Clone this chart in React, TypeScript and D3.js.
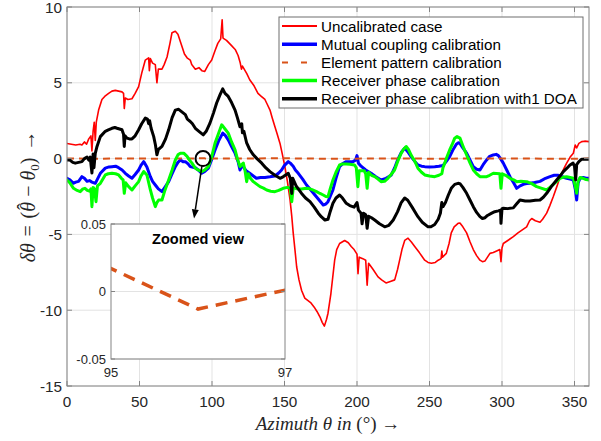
import React from "react";
import * as d3 from "d3";

type P = [number, number];

const xTicks = [0, 50, 100, 150, 200, 250, 300, 350];
const yTicks = [-15, -10, -5, 0, 5, 10];
const insetXTicks = [95, 97];
const insetYTicks = [-0.05, 0, 0.05];

const seriesNames = [
  "Uncalibrated case",
  "Mutual coupling calibration",
  "Element pattern calibration",
  "Receiver phase calibration",
  "Receiver phase calibration with1 DOA",
];

const uncalibrated: P[] = [[0,1.0],[3,0.95],[6,0.9],[9,0.95],[10.3,0.9],[12,1.1],[13.5,0.95],[15,1.3],[16.5,1.5],[17.2,0.5],[18,1.8],[18.8,2.4],[19.5,1.2],[20.2,2.4],[21.8,3.2],[24.1,3.9],[26,4.1],[28.7,4.3],[31,4.45],[33.3,4.5],[35.6,4.45],[37.9,4.4],[39,4.3],[39.5,3.3],[40.2,4.0],[42,3.9],[44.8,3.95],[47,4.3],[49.4,4.75],[51.7,5.7],[54,6.5],[56.3,6.65],[56.8,5.8],[57.5,6.6],[59,6.3],[60.9,6.2],[62,5.0],[63,5.9],[65.5,5.9],[67,6.2],[69,6.7],[71,7.6],[72.4,8.3],[74.7,8.4],[76.5,8.2],[79.3,7.4],[81,6.9],[82.8,6.65],[85,6.5],[86,6.2],[88.5,5.9],[91,6.0],[93,5.8],[95,5.75],[97.5,6.2],[99.8,6.5],[102,7.1],[104,7.6],[106,7.9],[107,9.15],[107.6,7.95],[110,7.8],[113,7.5],[116,7.2],[118,6.8],[119.5,6.3],[120.3,5.9],[121,6.1],[122.8,5.8],[124,5.6],[126,5.2],[129,4.8],[131.7,4.3],[134,4.1],[136.5,3.9],[138,3.6],[140,3.2],[141.5,2.7],[143.4,2.1],[145,1.6],[146.9,1.0],[148.5,0.3],[150.3,-0.55],[152,-1.5],[153.8,-2.7],[155,-3.8],[156,-4.9],[157.2,-6.0],[158.4,-7.15],[160,-8.0],[161.8,-8.7],[164,-9.2],[166,-9.35],[168,-9.5],[170.5,-9.8],[172.5,-10.1],[174.5,-10.45],[176,-10.8],[177.5,-11.05],[179,-10.6],[180,-10.2],[182,-8.9],[184.6,-6.7],[186,-6.0],[188,-5.6],[191.5,-5.4],[194,-5.55],[196,-5.8],[198,-6.0],[200,-6.3],[200.7,-7.6],[201.5,-6.5],[204,-6.6],[206,-6.7],[207,-8.35],[208,-6.9],[211,-7.3],[214.5,-7.8],[217,-8.0],[220,-8.2],[223,-8.1],[226,-8.0],[228,-7.3],[229.4,-6.7],[231,-6.0],[232.9,-5.4],[235.2,-5.25],[237.5,-5.5],[239.8,-5.8],[243,-6.2],[246.7,-6.7],[249,-6.85],[251.3,-6.9],[254,-6.85],[256,-6.7],[258,-6.6],[258.5,-6.1],[259,-6.5],[261.6,-6.25],[263.5,-5.6],[265,-4.9],[267,-4.5],[269.7,-4.27],[271,-4.25],[273,-4.5],[275.6,-4.9],[278,-5.5],[280.2,-6.0],[282.5,-6.4],[284.8,-6.7],[286.5,-6.8],[288.3,-6.75],[290,-6.5],[291.7,-6.25],[294,-6.2],[296.3,-6.1],[298.5,-6.0],[299.3,-6.8],[300,-5.9],[300.9,-5.6],[304,-5.4],[307.8,-5.15],[311,-4.9],[314,-4.7],[317,-4.5],[319,-4.1],[320.5,-3.95],[323,-4.1],[326.2,-4.2],[328,-4.0],[330.8,-3.6],[333,-3.1],[335.4,-2.5],[338,-1.8],[340,-1.2],[342.5,-0.7],[344.6,-0.3],[347,0.1],[349.2,0.35],[350.5,0.9],[351.5,0.7],[353,1.0],[355,1.12],[357,1.15],[360,1.12]];

const mutualCoupling: P[] = [[0,-1.3],[2,-1.4],[4.5,-1.63],[6,-1.55],[8,-1.5],[10.3,-1.19],[12,-1.3],[13.8,-1.5],[15.5,-1.45],[17.2,-1.55],[19.5,-1.63],[21,-1.35],[23,-0.97],[26.4,-0.63],[29,-0.55],[31,-0.53],[33.5,-0.5],[35.6,-0.6],[38,-0.75],[40.2,-0.97],[42.5,-1.15],[44.8,-1.3],[47,-1.05],[49.4,-0.75],[51,-0.45],[52.9,-0.2],[55.1,-0.55],[57.5,-1.19],[59,-1.5],[60.9,-1.74],[63,-2.0],[65.5,-2.18],[67.5,-1.9],[70.1,-1.52],[72.5,-1.0],[74.7,-0.53],[76.5,-0.25],[78.2,-0.09],[80,-0.2],[81.6,-0.2],[83.5,-0.35],[85,-0.53],[88.5,-0.6],[90.5,-0.75],[92.9,-0.97],[95,-0.85],[97.5,-0.63],[100,0.0],[102.1,0.57],[104.5,1.15],[107.4,1.68],[109,1.55],[111.2,1.24],[113.5,0.8],[115.9,0.36],[118,-0.2],[119.3,-0.75],[120.5,-0.5],[121.6,-0.55],[123.5,-0.8],[126,-0.97],[128.5,-1.15],[130.6,-1.3],[133.5,-1.25],[136.5,-1.24],[140,-1.2],[143.4,-1.15],[146,-0.95],[148,-0.75],[150,-0.45],[152.6,-0.2],[154,-0.3],[156,-0.5],[157.5,-0.75],[159.5,-0.97],[162.5,-1.35],[165.2,-1.74],[168,-2.05],[171,-2.4],[174,-2.75],[176.7,-3.06],[178.5,-3.0],[180,-2.84],[181.5,-2.5],[183.4,-2.07],[185.5,-1.3],[188,-0.53],[190,-0.35],[192.6,-0.2],[195,-0.2],[197.2,-0.2],[199,-0.1],[200,0.2],[201,-0.3],[202.8,-0.5],[206,-0.75],[209.7,-0.97],[213,-1.2],[216.6,-1.41],[220,-1.3],[223.5,-1.1],[226,-0.6],[228,-0.09],[230.5,0.4],[232.9,0.69],[235,0.45],[237.5,0.1],[240,-0.2],[242,-0.42],[244.5,-0.5],[246.7,-0.53],[250,-0.55],[253.6,-0.53],[256.5,-0.5],[259.3,-0.45],[261.5,-0.2],[263.9,0.13],[266,0.55],[268.5,0.95],[270,1.05],[271,1.0],[273,0.7],[275.6,0.36],[278,-0.1],[280.2,-0.53],[282.5,-0.7],[284.8,-0.75],[287,-0.4],[289.4,-0.09],[291.5,0.15],[294,0.24],[296,0.28],[297.5,0.2],[299,0.0],[300.9,-0.3],[303,-0.7],[305.5,-1.19],[308,-1.6],[310.1,-1.96],[312.5,-1.8],[314.7,-1.7],[317,-1.65],[319.3,-1.63],[322.5,-1.58],[326.2,-1.5],[330,-1.3],[333.1,-1.19],[336,-1.1],[338.9,-1.1],[341.5,-1.2],[344.6,-1.3],[347,-1.35],[349.2,-1.41],[350.5,-2.0],[351.5,-2.73],[352.5,-1.6],[353.8,-1.3],[356,-1.25],[358,-1.3],[360,-1.3]];

const elementPattern: P[] = [[0,0.01],[20,-0.01],[40,0.015],[60,-0.005],[80,0.01],[95,0.017],[96,-0.013],[97,0.001],[120,0.01],[150,0.02],[180,-0.01],[220,0.005],[260,-0.005],[300,0.01],[340,-0.01],[360,0]];

const receiverPhase: P[] = [[0,-1.41],[2,-1.6],[4.5,-1.96],[7,-2.1],[9.1,-2.18],[11,-2.0],[12.4,-1.96],[14,-2.1],[15.5,-2.15],[16.5,-2.0],[17.2,-3.17],[18,-1.9],[19,-2.0],[20,-2.84],[21,-1.8],[23,-1.63],[26.4,-1.08],[28.5,-1.0],[31,-0.97],[33.5,-1.0],[35.6,-1.08],[37.5,-1.3],[38.7,-1.4],[39.5,-2.29],[40.5,-1.6],[42.5,-1.85],[44.8,-2.07],[47,-1.8],[49.4,-1.52],[51,-1.15],[52.9,-0.86],[55.1,-1.08],[57.5,-2.07],[59,-2.6],[60.9,-3.17],[62,-2.9],[63.2,-2.73],[65.5,-2.73],[67.5,-2.1],[70.1,-1.41],[72.5,-0.75],[74.7,-0.09],[76.5,0.25],[78.2,0.36],[80.5,0.36],[82.8,0.15],[84.5,-0.1],[86.2,-0.3],[88.5,-0.63],[90.5,-0.75],[92.9,-0.86],[95,-0.75],[97.5,-0.53],[100,0.2],[102.1,1.02],[104.5,1.65],[106.7,2.23],[109,1.95],[111.2,1.68],[113.5,1.1],[115.9,0.57],[117.5,0.0],[119.3,-0.53],[120.5,-0.4],[121.6,-0.3],[122.8,-0.8],[123.9,-1.52],[125,-1.0],[126.5,-1.3],[128.5,-1.52],[131,-1.7],[133.1,-1.85],[135.5,-1.95],[137.7,-2.07],[140.5,-2.15],[143.4,-2.18],[146,-2.1],[149.1,-1.96],[152,-1.9],[154,-1.95],[155,-2.84],[156,-1.95],[157.2,-1.96],[159.5,-2.0],[161.8,-2.0],[164,-1.97],[166.4,-1.96],[169,-2.05],[172.1,-2.18],[174.5,-2.3],[176.7,-2.4],[178.5,-2.5],[180,-2.51],[181.5,-2.0],[183.4,-1.41],[185.5,-0.9],[188,-0.42],[190,-0.35],[192.6,-0.35],[195,-0.38],[198.3,-0.42],[199.5,-0.6],[200.6,-1.85],[201.5,-0.8],[203,-0.8],[205,-0.8],[206,-1.0],[207,-1.96],[208,-0.9],[210,-1.1],[212.2,-1.19],[214.5,-1.35],[216.6,-1.52],[219,-1.5],[221.3,-1.3],[223.5,-1.05],[225.9,-0.75],[228,-0.2],[230.5,0.36],[232,0.6],[233.9,0.8],[235.5,0.6],[237.5,0.2],[240,-0.2],[242,-0.63],[244.5,-0.9],[246.7,-1.08],[250,-1.15],[253.6,-1.19],[256.5,-1.1],[258.5,-1.0],[259.3,-0.6],[260.5,-0.3],[262,0.1],[263.9,0.57],[265.5,0.9],[267.4,1.35],[269,1.45],[271,1.35],[273,0.85],[275.6,0.24],[278,-0.3],[280.2,-0.75],[282.5,-1.0],[284.8,-1.19],[287,-1.2],[289.4,-1.19],[291.5,-1.1],[294,-0.97],[296,-0.98],[298.5,-1.0],[299.3,-1.96],[300.2,-1.0],[302.5,-1.1],[305.5,-1.3],[308,-1.4],[310.1,-1.52],[313,-1.5],[317,-1.52],[320.5,-1.65],[323.9,-1.85],[327,-1.95],[330.8,-2.07],[333,-1.9],[335.4,-1.7],[337.7,-1.5],[340,-1.3],[342.5,-1.22],[344.6,-1.2],[347,-1.25],[349.2,-1.3],[350.5,-1.8],[351.5,-2.29],[352.5,-1.5],[353.8,-1.25],[356,-1.3],[358,-1.38],[360,-1.41]];

const receiverPhase1DOA: P[] = [[0,-0.09],[2,-0.1],[4,-0.25],[5.7,-0.3],[8,-0.25],[10.3,-0.2],[12,0.0],[13.8,0.1],[15,-0.1],[16,0.1],[17.2,-0.95],[18,0.3],[18.6,-0.6],[19.5,0.35],[20.7,0.8],[23,1.45],[26.4,1.8],[28.5,1.9],[31,2.0],[33,2.05],[34.5,2.0],[37.9,1.9],[39,1.6],[39.5,0.8],[40,1.5],[41.4,1.35],[43,1.3],[44.8,1.3],[47,1.5],[49.4,1.9],[51.5,2.3],[54,2.67],[55.5,2.6],[56.3,2.3],[57,2.5],[58,2.0],[59.8,1.45],[61,0.9],[62,0.25],[63,0.6],[65.5,0.8],[68,1.3],[70.1,1.9],[72.5,2.7],[74.7,3.2],[77,3.25],[79,3.1],[81.6,2.9],[83,2.6],[85,2.45],[86.5,2.3],[88.5,2.0],[91,1.8],[94,1.57],[96,1.8],[98.6,2.34],[101,3.0],[103.2,3.67],[105.5,4.2],[107.4,4.6],[109,4.3],[111.2,4.1],[113.5,3.7],[115.9,3.2],[117.5,2.7],[119.3,2.1],[120.5,2.3],[121,1.7],[122,1.8],[123.9,1.03],[126,0.6],[128.5,0.25],[131,0.0],[134.3,-0.3],[137,-0.6],[140,-0.86],[143.4,-1.1],[146.9,-1.3],[149,-1.2],[152.6,-0.97],[154,-1.3],[155,-2.3],[155.7,-1.3],[158,-1.8],[161.8,-2.3],[164.5,-2.6],[167.6,-2.84],[170.5,-3.2],[173.3,-3.6],[175.5,-3.85],[177.9,-4.05],[180,-4.0],[181.5,-3.5],[183.4,-2.95],[185.5,-2.6],[188,-2.4],[190,-2.6],[192.6,-2.95],[195,-3.1],[198,-3.2],[200,-2.9],[201,-3.4],[202.8,-3.6],[203.5,-4.3],[204.5,-3.6],[206,-3.7],[207,-4.6],[208,-3.8],[210,-3.9],[212.2,-4.05],[215.5,-4.3],[219.1,-4.5],[222,-4.4],[225,-4.05],[228,-3.5],[230.5,-2.9],[232.9,-2.6],[235,-2.75],[238,-3.2],[242,-3.83],[245,-4.2],[249,-4.5],[251,-4.5],[253.6,-4.35],[256,-4.0],[257.5,-3.6],[258.5,-2.9],[259.3,-3.17],[261,-2.9],[263,-2.4],[265,-1.96],[267.4,-1.7],[269.7,-1.63],[271,-1.65],[273,-1.9],[275.6,-2.29],[278,-2.75],[280.2,-3.17],[282.5,-3.55],[284.8,-3.83],[286.5,-3.95],[288.3,-3.9],[290,-3.75],[292.9,-3.6],[295,-3.5],[297.5,-3.45],[299,-3.4],[299.3,-4.27],[300,-3.3],[300.9,-3.28],[304,-3.3],[307.8,-3.25],[310,-3.0],[312.4,-2.73],[316,-2.8],[319.3,-2.8],[323,-2.75],[326.2,-2.73],[328.5,-2.55],[330.8,-2.29],[334,-1.85],[337.7,-1.41],[340,-1.15],[342.3,-0.86],[344.6,-0.65],[346.9,-0.42],[349,-0.3],[350,-0.5],[350.8,-1.41],[351.5,-0.4],[353,-0.2],[355,-0.04],[357,-0.04],[360,-0.05]];

// annotation: circle around zoomed point (data coords) and arrow end
const zoomPoint: P = [93.8, 0];
const arrowEnd: P = [87.6, -3.95];

const W = 601, H = 441;
const L = 67, R = 589, T = 7, B = 386;
const INS = { l: 111, r: 285, t: 224, b: 359 };

const FONT = "'Liberation Sans', Arial, Helvetica, sans-serif";
const SERIF = "'Liberation Serif', 'Times New Roman', serif";
const AX = "#262626";
const BOX = "#848484";
const GRID = "#e3e3e3";

export default function App() {
  const x = d3.scaleLinear().domain([0, 360]).range([L, R]);
  const y = d3.scaleLinear().domain([-15, 10]).range([B, T]);
  const xi = d3.scaleLinear().domain([95, 97]).range([INS.l, INS.r]);
  const yi = d3.scaleLinear().domain([-0.05, 0.05]).range([INS.b, INS.t]);
  const line = d3.line<P>().x((d) => x(d[0])).y((d) => y(d[1]));
  const lineI = d3.line<P>().x((d) => xi(d[0])).y((d) => yi(d[1]));

  const series = [
    { name: seriesNames[0], data: uncalibrated, color: "#ff0000", w: 1.6, dash: undefined as string | undefined },
    { name: seriesNames[1], data: mutualCoupling, color: "#0000ff", w: 3 },
    { name: seriesNames[2], data: elementPattern, color: "#d95319", w: 2, dash: "7,5" },
    { name: seriesNames[3], data: receiverPhase, color: "#00ff00", w: 3 },
    { name: seriesNames[4], data: receiverPhase1DOA, color: "#000000", w: 3 },
  ];

  const cx = x(zoomPoint[0]), cy = y(zoomPoint[1]);
  const r = 7.5;
  const ax2 = x(arrowEnd[0]), ay2 = y(arrowEnd[1]);
  const ang = Math.atan2(ay2 - cy, ax2 - cx);
  const ax1 = cx + r * Math.cos(ang), ay1 = cy + r * Math.sin(ang);
  const headL = 9, headW = 3.5;
  const bx = ax2 - headL * Math.cos(ang), by = ay2 - headL * Math.sin(ang);
  const nx = -Math.sin(ang), ny = Math.cos(ang);

  const legendRows = [26, 44.2, 62.4, 80.6, 98.8];

  return (
    <svg width={W} height={H} style={{ position: "absolute", left: 0, top: 0, background: "#fff" }}>
      <defs>
        <clipPath id="main"><rect x={L} y={T} width={R - L} height={B - T} /></clipPath>
        <clipPath id="ins"><rect x={INS.l} y={INS.t} width={INS.r - INS.l} height={INS.b - INS.t} /></clipPath>
      </defs>
      <rect x={0} y={0} width={W} height={H} fill="#fff" />
      {/* grid */}
      {xTicks.map((t) => (
        <line key={"gx" + t} x1={x(t)} x2={x(t)} y1={T} y2={B} stroke={GRID} strokeWidth={1} />
      ))}
      {yTicks.map((t) => (
        <line key={"gy" + t} x1={L} x2={R} y1={y(t)} y2={y(t)} stroke={GRID} strokeWidth={1} />
      ))}
      {/* series */}
      <g clipPath="url(#main)">
        {series.map((s) => (
          <path key={s.name} d={line(s.data) || ""} fill="none" stroke={s.color} strokeWidth={s.w}
            strokeDasharray={s.dash} strokeLinejoin="round" strokeLinecap={s.dash ? "butt" : "round"} />
        ))}
      </g>
      {/* box and ticks */}
      <rect x={L} y={T} width={R - L} height={B - T} fill="none" stroke={BOX} strokeWidth={1} />
      {xTicks.map((t) => (
        <g key={"tx" + t}>
          <line x1={x(t)} x2={x(t)} y1={B} y2={B - 5} stroke={BOX} />
          <line x1={x(t)} x2={x(t)} y1={T} y2={T + 5} stroke={BOX} />
          <text x={x(t)} y={B + 21} textAnchor="middle" fontFamily={FONT} fontSize={15.3} fill={AX}>{t}</text>
        </g>
      ))}
      {yTicks.map((t) => (
        <g key={"ty" + t}>
          <line x1={L} x2={L + 5} y1={y(t)} y2={y(t)} stroke={BOX} />
          <line x1={R} x2={R - 5} y1={y(t)} y2={y(t)} stroke={BOX} />
          <text x={L - 5} y={y(t) + 5.5} textAnchor="end" fontFamily={FONT} fontSize={15.3} fill={AX}>{t}</text>
        </g>
      ))}
      {/* axis labels */}
      <text x={(L + R) / 2} y={430} textAnchor="middle" fontFamily={SERIF} fontSize={19} fill={AX}>
        <tspan fontStyle="italic">Azimuth θ in</tspan>
        <tspan> (°) →</tspan>
      </text>
      <text transform={`translate(35,${(T + B) / 2}) rotate(-90)`} textAnchor="middle" fontFamily={SERIF} fontSize={20} fill={AX}>
        <tspan fontStyle="italic">δθ</tspan>
        <tspan>{"\u2004=\u2004("}</tspan>
        <tspan fontStyle="italic">θ</tspan>
        <tspan dx={-8} dy={-3}>{"\u02C6"}</tspan>
        <tspan dx={1.5} dy={3}>{"\u2005−\u2005"}</tspan>
        <tspan fontStyle="italic">θ</tspan>
        <tspan fontSize={13} dy={4}>0</tspan>
        <tspan dy={-4}>{")\u2004→"}</tspan>
      </text>
      {/* annotation circle & arrow */}
      <circle cx={cx} cy={cy} r={r} fill="none" stroke="#000" strokeWidth={2} />
      <line x1={ax1} y1={ay1} x2={bx} y2={by} stroke="#000" strokeWidth={1.5} />
      <path d={`M${ax2},${ay2} L${bx + nx * headW},${by + ny * headW} L${bx - nx * headW},${by - ny * headW} Z`} fill="#000" />
      {/* inset */}
      <rect x={INS.l} y={INS.t} width={INS.r - INS.l} height={INS.b - INS.t} fill="#fff" />
      {insetYTicks.map((t) => (
        <line key={"igy" + t} x1={INS.l} x2={INS.r} y1={yi(t)} y2={yi(t)} stroke={GRID} />
      ))}
      <g clipPath="url(#ins)">
        <path d={lineI(elementPattern) || ""} fill="none" stroke="#d95319" strokeWidth={3.5} strokeDasharray="12,8" />
      </g>
      <rect x={INS.l} y={INS.t} width={INS.r - INS.l} height={INS.b - INS.t} fill="none" stroke={BOX} strokeWidth={1} />
      {insetYTicks.map((t) => (
        <g key={"iy" + t}>
          <line x1={INS.l} x2={INS.l + 4} y1={yi(t)} y2={yi(t)} stroke={BOX} />
          <line x1={INS.r} x2={INS.r - 4} y1={yi(t)} y2={yi(t)} stroke={BOX} />
          <text x={INS.l - 5} y={yi(t) + 4.5} textAnchor="end" fontFamily={FONT} fontSize={13} fill={AX}>{t}</text>
        </g>
      ))}
      {insetXTicks.map((t) => (
        <text key={"ix" + t} x={xi(t)} y={INS.b + 18} textAnchor="middle" fontFamily={FONT} fontSize={13} fill={AX}>{t}</text>
      ))}
      <text x={(INS.l + INS.r) / 2} y={INS.t + 20} textAnchor="middle" fontFamily={FONT} fontSize={14.5} fontWeight="bold" fill="#000">Zoomed view</text>
      {/* legend */}
      <rect x={279} y={17} width={304} height={91} fill="#fff" stroke="#6e6e6e" strokeWidth={1} />
      {series.map((s, i) => (
        <g key={"lg" + i}>
          <line x1={282} x2={317} y1={legendRows[i]} y2={legendRows[i]} stroke={s.color} strokeWidth={s.dash ? 2 : s.w + 0.5}
            strokeDasharray={s.dash ? "6,13" : undefined} />
          <text x={321} y={legendRows[i] + 5.5} fontFamily={FONT} fontSize={15.2} fill="#000">{s.name}</text>
        </g>
      ))}
    </svg>
  );
}
